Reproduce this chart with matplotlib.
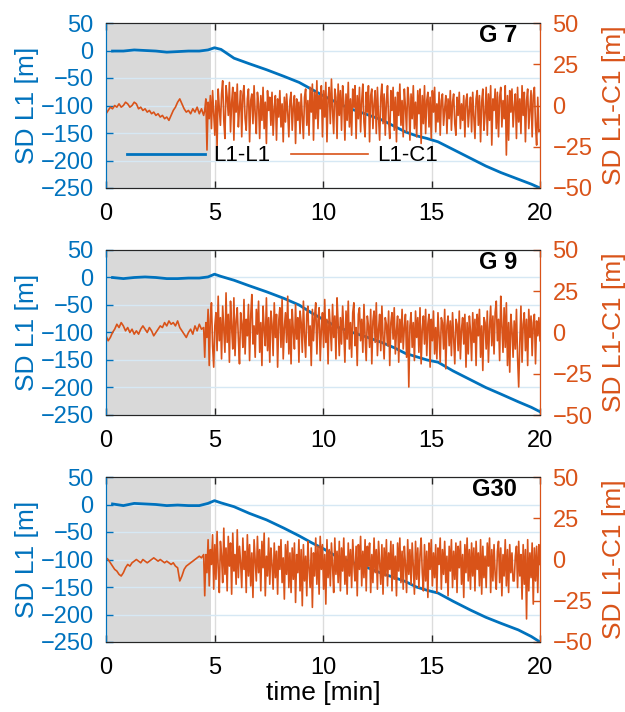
import numpy as np
import matplotlib
matplotlib.use("Agg")
import matplotlib.pyplot as plt

plt.rcParams['font.family'] = ['Liberation Sans', 'DejaVu Sans']

# ---------------- data ----------------
titles = ["G 7", "G 9", "G30"]
xticks = [0, 5, 10, 15, 20]
left_ticks = [-250, -200, -150, -100, -50, 0, 50]
right_ticks = [-50, -25, 0, 25, 50]
shade_end = 4.85

# SD L1 (L1-L1) read points [min], [m]
blue_t = [0.3, 0.8, 1.3, 1.8, 2.3, 2.8, 3.3, 3.8, 4.3, 4.7, 5.0, 5.3, 5.9, 6.6, 7.4,
          8.2, 8.9, 9.5, 10.0, 10.6, 11.2, 12.0, 12.7, 13.3, 13.8, 14.3, 14.8, 15.3,
          16.0, 16.8, 17.5, 18.2, 19.0, 19.6, 20.0]
blue_g7 = [-1, -1, 1, 0, -1, -3, -2, -1, -1, 1, 5, 2, -14, -24, -35, -47, -58, -71, -82,
           -94, -105, -116, -126, -138, -148, -155, -160, -166, -180, -196, -210, -222,
           -234, -243, -250]
blue_g9 = [0, -2, 0, 1, 0, -2, -2, -1, -1, 1, 6, 2, -5, -15, -26, -38, -50, -65, -76,
           -89, -98, -108, -118, -128, -138, -144, -150, -154, -170, -186, -200, -212,
           -226, -236, -244]
blue_g30 = [1, -2, 2, 1, 0, -2, -1, -2, -2, 2, 7, 3, -4, -16, -28, -43, -57, -70, -80,
            -94, -103, -114, -125, -133, -140, -150, -156, -161, -176, -192, -205, -216,
            -228, -240, -250]

# SD L1-C1 read values: quiet part 0..4.5 min, noisy part 4.55..20 min
quiet_t0, quiet_t1 = 0.0, 4.5
noisy_t0, noisy_t1 = 4.55, 20.0

c_g7_quiet = [-5, -3, -1, -2, 0, -1, 1, -1, 0, 2, 1, -1, 0, 2, 1, -2, -1, -3, -2, -4, -3,
              -5, -4, -6, -5, -7, -6, -8, -7, -9, -6, -3, -1, 2, 4, 1, -2, -4, -3, -5,
              -2, -4, -1, -5, -2, -6]
c_g7_noisy = [
    -3, 4, -27, 2, -8, 6, -14, 9, -5, -18, 3, -25, 10, -2, -12, 7, 15, -9, -20, 12,
    5, -6, 14, -16, 2, 11, -21, 8, -4, 13, -13, -1, 9, -19, 6, 12, -8, -15, 4, 10,
    -22, 3, 7, -11, 12, -5, -17, 8, 1, -20, 6, -9, 11, -14, 2, -23, 9, -3, 5, -12,
    8, -18, -2, 6, -21, 4, -7, 9, -13, 1, -22, 5, -10, 7, -4, -19, 3, 8, -15, -1,
    6, -23, 4, -9, 2, -17, 7, -6, -20, 5, 10, -12, 3, -18, 11, -4, 13, -21, 8, -8,
    15, -14, 6, -2, 12, -19, 9, -7, 14, -22, 4, 11, -11, 16, -3, -17, 10, 5, -20, 13,
    -6, 9, -15, 12, 2, -21, 7, -9, 14, -13, 4, -18, 10, -1, 12, -20, 6, -8, 11, -16,
    3, 13, -10, -19, 8, -4, 12, -22, 6, 10, -14, 1, 9, -17, 11, -7, -21, 5, 13, -11,
    7, -18, 2, 12, -9, -20, 9, -3, 11, -15, 5, -22, 8, -6, 13, -12, 3, -19, 10, -1,
    -16, 11, 4, -21, 7, -8, 12, -14, 2, -19, 9, -5, 10, -23, 6, -11, 12, -17, 3, 8,
    -13, 5, -20, 9, -4, 11, -16, 1, -10, 8, -18, 3, 7, -12, -2, 6, -17, 4, -8, 9,
    -15, 2, 7, -11, -18, 5, -6, 8, -14, 1, -9, 6, -19, 3, 7, -13, -3, 5, -16, 8,
    -7, -20, 4, 9, -12, 6, -22, 2, 10, -15, -5, 11, -18, 7, -9, 12, -24, 4, -3, 10,
    -14, 8, -19, 5, 11, -13, 3, -8, 12, -30, 6, -21, 9, -4, 10, -13, -1, 7, -20, 11,
    -10, 4, -17, 12, -6, 8, -22, 3, 10, -14, -2, 9, -19, 6, 11, -12, -24, 5, -16, -15]

c_g9_quiet = [-2, -5, -3, 0, 2, 5, 3, 6, 4, 1, 3, 0, 2, -1, 1, -1, 2, 4, 2, 0, 3, 1, -2, 0,
              2, 4, 3, 6, 4, 7, 5, 6, 4, 7, 3, 1, -1, -3, 0, 2, -1, 4, 1, 5, 2, 3]
c_g9_noisy = [
    -15, 6, -3, 14, -20, 8, 18, -8, -21, 4, 12, -11, 22, -5, 9, -16, 16, 2, -12, 24,
    -6, 11, -18, 19, 3, -10, 21, -14, 7, 15, -4, -19, 12, 5, -9, 20, -13, 8, -2, 17,
    -17, 10, 23, -7, 4, -15, 14, -1, 19, -12, 6, -20, 16, 2, -8, 21, -11, 9, -18, 13,
    5, -14, 18, -3, 11, -21, 7, 15, -9, 20, -16, 3, 12, -6, 22, -13, 8, -19, 14, 1,
    -10, 17, -4, 9, -18, 13, 6, -12, 19, -2, -15, 11, 16, -8, 4, -20, 14, -5, 10, 18,
    -13, 7, 15, -17, 2, 12, -9, 20, -6, 8, -19, 14, 3, -11, 17, -3, 10, -16, 21, 5,
    -14, 9, -7, 16, 1, -18, 13, -4, 19, -10, 6, -15, 12, 18, -8, 3, -20, 11, 15, -5,
    8, -12, 17, -2, -17, 10, 4, -9, 14, -19, 7, 13, -6, 18, -14, 2, 11, -11, 16, -3,
    -16, 9, 5, -8, 13, -20, 6, 12, -4, 15, -13, 1, 10, -18, 8, -6, 14, -10, 3, 11,
    -15, 7, -33, 4, 12, -9, 6, -17, 13, -3, 9, -12, 15, -19, 2, 10, -7, 14, -14, 5,
    11, -21, 8, -5, 13, -13, 3, -16, 12, -2, -18, 9, 6, -10, 14, -22, 4, 10, -8, 7,
    -14, 12, -3, -19, 8, 5, -11, 13, -16, 2, 9, -7, 11, -21, 6, -13, 10, 1, -17, 12,
    -6, 8, -20, 11, -2, 14, -15, 4, -23, 9, 6, -10, 13, -18, 3, 16, -8, 10, -13, 12,
    19, -5, 8, -17, 22, 4, -12, 15, -9, 18, -20, 6, -24, 11, 2, -15, 7, -10, 14, -15,
    -33, -6, 16, -18, 5, 12, -11, 8, -20, 14, -3, 10, -14, 6, 11, -19, 7, -2, 9, -5]

c_g30_quiet = [1, 0, -2, -4, -6, -7, -9, -10, -8, -5, -3, -4, -2, -1, 0, -1, -2, 0, -1, -2,
               -1, 0, 1, 0, -1, 0, -1, -2, -1, -2, -3, -2, -4, -5, -13, -10, -6, -4, -3, -2,
               -1, 0, 1, 2, 1, 3]
c_g30_noisy = [
    -22, 3, -8, 12, -16, 6, -3, 15, -18, 9, -12, 17, -5, -20, 11, 2, -14, 19, -9, 7,
    -19, 14, -4, 10, -21, 16, -7, 3, -15, 18, -11, 8, -2, -17, 13, -6, 5, -20, 15, -10,
    9, -16, 4, -23, 12, -1, -13, 14, -8, 6, -19, 11, -5, 16, -22, 2, -10, 13, -15, 7,
    -3, -18, 10, -11, 5, -21, 8, -6, 12, -14, 1, -24, 9, -9, 11, -17, 4, -20, 7, -12,
    10, -26, 3, -8, 12, -19, 6, -28, 9, -13, 2, -22, 11, -5, -17, 7, -29, 4, -10, 13,
    -15, 8, -21, 14, -6, 9, -18, 3, -27, 12, -11, 6, -16, 10, -4, -20, 13, -9, 5, -14,
    11, -19, 7, -7, 13, -15, 2, -21, 10, -10, 6, -17, 12, -3, -13, 8, -22, 9, -6, 14,
    -16, 5, -11, 12, -19, 8, -4, 10, -20, 3, -14, 13, -8, 6, -18, 11, -2, -15, 9, -21,
    7, -10, 12, -16, 4, -6, 11, -19, 9, -12, 2, -22, 10, -7, 13, -14, 5, -18, 8, -3,
    -20, 12, -9, 6, -15, 10, -4, -21, 11, -12, 7, -17, 3, 13, -8, -19, 9, -13, 5, -23,
    10, -6, 12, -16, 4, -11, 9, -20, 7, -3, 13, -18, 6, -9, 11, -14, 2, -22, 8, -7,
    12, -17, 5, -12, 10, -20, 8, -5, 11, -15, 3, -23, 9, -8, 13, -13, 6, -18, 10, -10,
    7, -19, 11, -6, 4, -16, 12, -21, 8, -11, 2, -17, 10, -4, 13, -20, 6, -13, 9, -9,
    -18, 5, 11, -14, 7, -22, 3, -10, 12, -16, 6, -20, 9, -8, 4, -13, -13, 2, 8, -17,
    11, -10, 3, -24, 9, -15, 6, -36, 12, -19, 4, -11, 10, -27, 7, -13, 8, -20, 9, -3]

blue_series = [blue_g7, blue_g9, blue_g30]
orange_series = [(c_g7_quiet, c_g7_noisy), (c_g9_quiet, c_g9_noisy), (c_g30_quiet, c_g30_noisy)]

# ---------------- style ----------------
BLUE = '#0072BD'
ORANGE = '#D95319'
GRAY = '#d9d9d9'
DARK = '#262626'
TICK_FS = 17
LABEL_FS = 19

fig = plt.figure(figsize=(6.25, 7.12), dpi=100)
W, H = 625, 712
ax_left, ax_right = 106, 540
panel_tops = [23, 250, 477]
panel_h = 165

for i in range(3):
    top = panel_tops[i]
    rect = [ax_left / W, 1 - (top + panel_h) / H, (ax_right - ax_left) / W, panel_h / H]
    ax1 = fig.add_axes(rect)
    ax2 = ax1.twinx()
    ax2.set_position(rect)

    ax1.axvspan(0, shade_end, color=GRAY, zorder=0.2, lw=0)
    lb, = ax1.plot(blue_t, blue_series[i], color=BLUE, lw=2.0, zorder=2, label='L1-L1')

    q, n = orange_series[i]
    tq = np.linspace(quiet_t0, quiet_t1, len(q))
    tn = np.linspace(noisy_t0, noisy_t1, len(n))
    t_all = np.concatenate([tq, tn])
    v_all = np.concatenate([q, n])
    lo, = ax2.plot(t_all, v_all, color=ORANGE, lw=1.2, zorder=2, label='L1-C1')

    ax1.set_xlim(0, 20)
    ax1.set_ylim(-250, 50)
    ax2.set_ylim(-50, 50)
    ax1.set_xticks(xticks)
    ax1.set_yticks(left_ticks)
    ax2.set_yticks(right_ticks)

    ax1.set_axisbelow(True)
    ax1.xaxis.grid(True, color='#dcdcdc', lw=1.0)
    ax1.yaxis.grid(True, color='#d6e8f4', lw=1.0)

    ax1.tick_params(axis='x', direction='in', length=5, width=1, colors=DARK,
                    labelsize=TICK_FS, pad=11, top=True, labelcolor='black')
    ax1.tick_params(axis='y', direction='in', length=5, width=1, colors=BLUE,
                    labelsize=TICK_FS, pad=9)
    ax2.tick_params(axis='y', direction='in', length=5, width=1, colors=ORANGE,
                    labelsize=TICK_FS, pad=9)

    for ax in (ax1, ax2):
        ax.spines['top'].set_color(DARK)
        ax.spines['bottom'].set_color(DARK)
        ax.spines['left'].set_color(BLUE)
        ax.spines['right'].set_color(ORANGE)

    ax1.set_ylabel('SD L1 [m]', color=BLUE, fontsize=LABEL_FS, labelpad=1)
    ax2.set_ylabel('SD L1-C1 [m]', color=ORANGE, fontsize=LABEL_FS, rotation=90,
                   labelpad=7)

    ax2.text(0.947, 0.925, titles[i], transform=ax2.transAxes, ha='right', va='center',
             fontsize=17, fontweight='bold', color='black', zorder=6)

    if i == 0:
        ax2.legend([lb, lo], ['L1-L1', 'L1-C1'], loc='center left',
                   bbox_to_anchor=(0.048, 0.194), ncol=2, frameon=False,
                   fontsize=16, handlelength=3.5, handletextpad=0.4,
                   columnspacing=0.9, borderpad=0, borderaxespad=0)
    if i == 2:
        ax1.set_xlabel('time [min]', fontsize=LABEL_FS, labelpad=1)

fig.savefig('out.png', dpi=100)
